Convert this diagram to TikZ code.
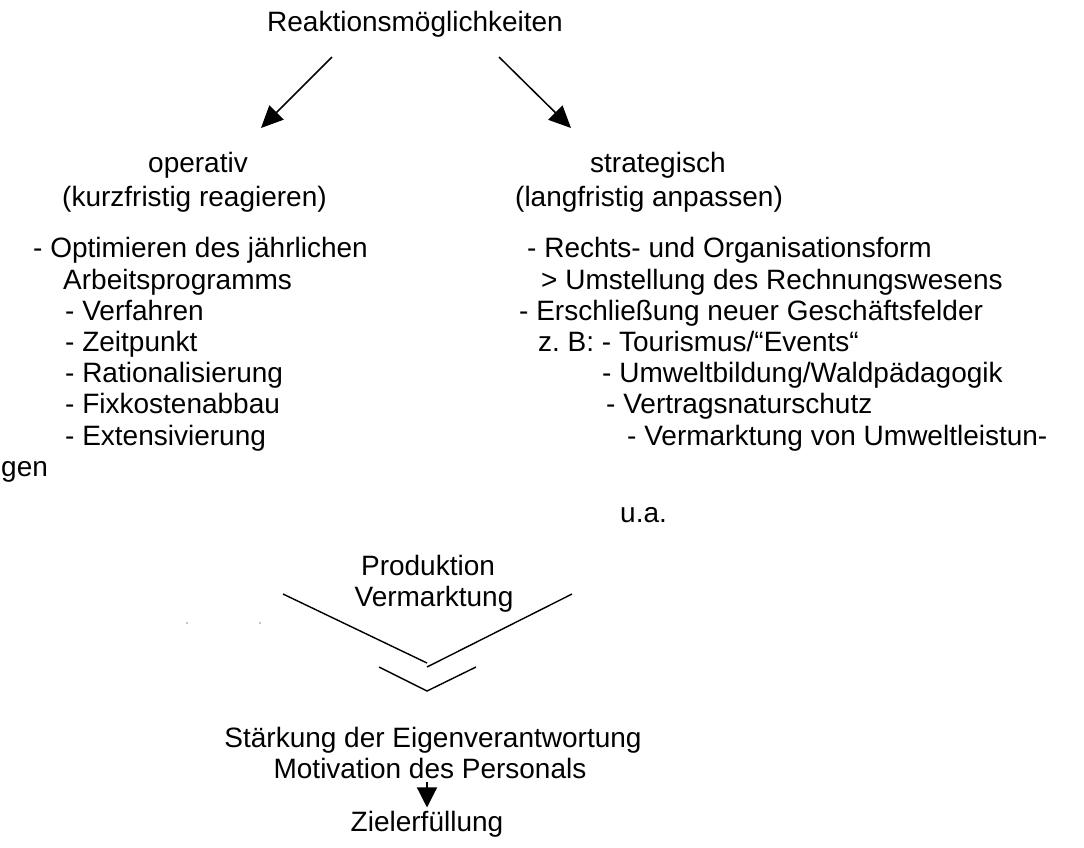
\documentclass[tikz,border=0pt]{standalone}
\usepackage{fontspec}
\setmainfont{Liberation Sans}
\usepackage{tikz}
\usetikzlibrary{arrows.meta,positioning}
\frenchspacing
\tikzstyle{txt} = [inner sep=0pt, anchor=base west, font=\fontsize{28}{31}\selectfont]
\tikzstyle{ctxt} = [inner sep=0pt, anchor=base, font=\fontsize{28}{31}\selectfont]
\tikzstyle{arrow} = [draw, line width=1.5pt, -{Triangle[length=22pt,width=20pt]}]
\tikzstyle{line} = [draw, line width=1.4pt]
\newcommand{\lft}[3]{node (l#1) [txt] at #2 {#3}}
\newcommand{\rgt}[3]{node (r#1) [txt] at #2 {#3}}

\begin{document}
\begin{tikzpicture}[x=1pt,y=-1pt]
\useasboundingbox (0,0) rectangle (1084,847);
\node (top) [ctxt] at (415,31) {Reaktionsmöglichkeiten};

% two branches
\node (op) [txt] at (148,172) {operativ};
\node (opk) [txt] at (62,206) {(kurzfristig reagieren)};
\node (st) [txt] at (590,172) {strategisch};
\node (stl) [txt] at (515,206) {(langfristig anpassen)};
\coordinate (a1) at (332,57);
\coordinate (b1) at (261,128);
\coordinate (a2) at (499,57);
\coordinate (b2) at (571,128);
\path [arrow] (a1) -- (b1);
\path [arrow] (a2) -- (b2);

% operativ list
\path \lft{1}{(33,257)}{- Optimieren des jährlichen};
\path \lft{2}{(63,289)}{Arbeitsprogramms};
\path \lft{3}{(65,320)}{- Verfahren};
\path \lft{4}{(65,351)}{- Zeitpunkt};
\path \lft{5}{(65,382)}{- Rationalisierung};
\path \lft{6}{(65,413)}{- Fixkostenabbau};
\path \lft{7}{(65,445)}{- Extensivierung};
\path \lft{8}{(1,476)}{gen};

% strategisch list
\path \rgt{1}{(527,257)}{- Rechts- und Organisationsform};
\path \rgt{2}{(541,289)}{> Umstellung des Rechnungswesens};
\path \rgt{3}{(519,320)}{- Erschließung neuer Geschäftsfelder};
\path \rgt{4}{(538,351)}{z. B: - Tourismus/“Events“};
\path \rgt{5}{(602,382)}{- Umweltbildung/Waldpädagogik};
\path \rgt{6}{(606,413)}{- Vertragsnaturschutz};
\path \rgt{7}{(627,445)}{- Vermarktung von Umweltleistun-};
\path \rgt{8}{(620,522)}{u.a.};

% merging
\node (prod) [ctxt] at (428,575) {Produktion};
\node (verm) [ctxt] at (434,606) {Vermarktung};
\coordinate (c1) at (283,594);
\coordinate (c2) at (427,663);
\coordinate (c3) at (427,667);
\coordinate (c4) at (572,594);
\path [line] (c1) -- (c2);
\path [line] (c3) -- (c4);
\coordinate (d1) at (379,667);
\coordinate (d2) at (427,691);
\coordinate (d3) at (476,667);
\path [line] (d1) -- (d2) -- (d3);
\fill (187,623) circle (0.7);
\fill (260,623) circle (0.7);

\node (eig) [ctxt] at (433,747) {Stärkung der Eigenverantwortung};
\node (mot) [ctxt] at (430,778) {Motivation des Personals};
\node (ziel) [ctxt] at (427,831) {Zielerfüllung};
\path [draw, line width=1.2pt, -{Triangle[length=20pt,width=20pt]}] (mot.south) ++(-3,4) coordinate (e1) (e1) -- ++(0,25) coordinate (e2);
\end{tikzpicture}
\end{document}
